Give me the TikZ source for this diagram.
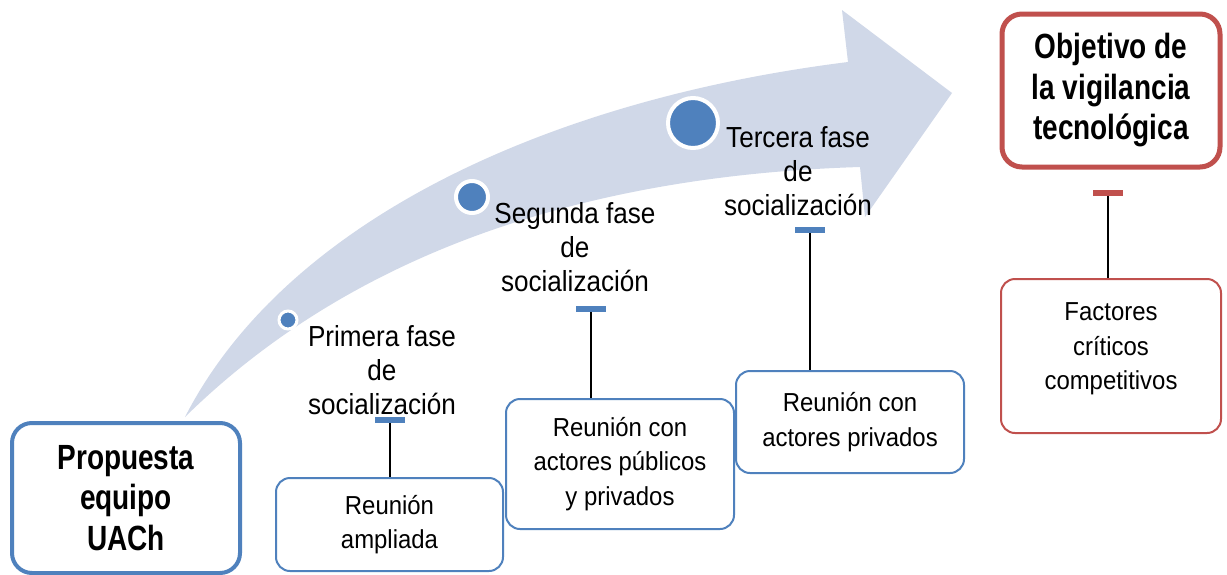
\documentclass[tikz,border=0pt]{standalone}
\usepackage{fontspec}
\setmainfont{Liberation Sans}[FakeStretch=0.92]
\newfontfamily\phasefont{Liberation Sans}[FakeStretch=0.90]
\newfontfamily\titlefont{Liberation Sans}[FakeStretch=0.80]
\definecolor{arrowfill}{HTML}{D0D8E8}
\definecolor{boxblue}{HTML}{4F81BD}
\definecolor{boxred}{HTML}{C0504D}
\begin{document}
\begin{tikzpicture}[x=1pt,y=-1pt,
  bluebox/.style={draw=boxblue, line width=2pt, rounded corners=14pt, fill=white, align=center, inner sep=0pt, font=\fontsize{26}{34.5}\selectfont},
  redbox/.style={bluebox, draw=boxred},
  titlebox/.style={rounded corners=20pt, font=\titlefont\bfseries\fontsize{35}{40.5}\selectfont},
  phase/.style={align=center, inner sep=0pt, font=\phasefont\fontsize{29}{34}\selectfont},
  teebar/.style={fill=boxblue, minimum width=30pt, minimum height=6pt, inner sep=0pt},
  redbar/.style={teebar, fill=boxred},
  conn/.style={line width=1.8pt, black},
  dot/.style={circle, fill=boxblue, draw=white, line width=3pt, inner sep=0pt}
]
\useasboundingbox (0,0) rectangle (1227,574);
\fill[white] (0,0) rectangle (1227,574);

% big curved arrow
\fill[arrowfill] (185,417) .. controls (285,222) and (545,100) .. (848,62)
  -- (842,10) -- (952,93) -- (865,217) -- (860,167)
  .. controls (600,175) and (360,245) .. (185,417) -- cycle;

% dots on the arrow
\node[dot, minimum size=18pt] (d1) at (288,320) {};
\node[dot, minimum size=32pt, line width=4pt] (d2) at (472,197) {};
\node[dot, minimum size=50pt, line width=4pt] (d3) at (693,123) {};

% phase labels
\node[phase] (p1) at (382,370) {Primera fase\\de\\socialización};
\node[phase] (p2) at (575,247) {Segunda fase\\de\\socialización};
\node[phase] (p3) at (798,171) {Tercera fase\\de\\socialización};

% boxes
\node[bluebox, titlebox, line width=4pt, minimum width=228pt, minimum height=150pt] (prop) at (126,498) {Propuesta\\equipo\\UACh};
\node[bluebox, minimum width=227pt, minimum height=93pt] (ra) at (389.5,524.5) {Reunión\\ampliada};
\node[bluebox, minimum width=228pt, minimum height=130pt] (rp) at (620,464) {Reunión con\\actores públicos\\y privados};
\node[bluebox, minimum width=228pt, minimum height=102pt] (rv) at (850,422) {Reunión con\\actores privados};
\node[redbox, minimum width=220pt, minimum height=154pt, text depth=19pt] (fc) at (1111,356) {Factores\\críticos\\competitivos};
\node[redbox, titlebox, line width=5pt, minimum width=218pt, minimum height=153pt] (obj) at (1111,90.5) {Objetivo de\\la vigilancia\\tecnológica};

% tee connectors
\node[teebar] (b1) at (390,420) {};
\node[teebar] (b2) at (591,309) {};
\node[teebar] (b3) at (810,230) {};
\node[redbar] (b4) at (1108,193) {};
\draw[conn] (b1.south) -- (b1.south |- ra.north);
\draw[conn] (b2.south) -- (b2.south |- rp.north);
\draw[conn] (b3.south) -- (b3.south |- rv.north);
\draw[conn] (b4.south) -- (b4.south |- fc.north);
\end{tikzpicture}
\end{document}
